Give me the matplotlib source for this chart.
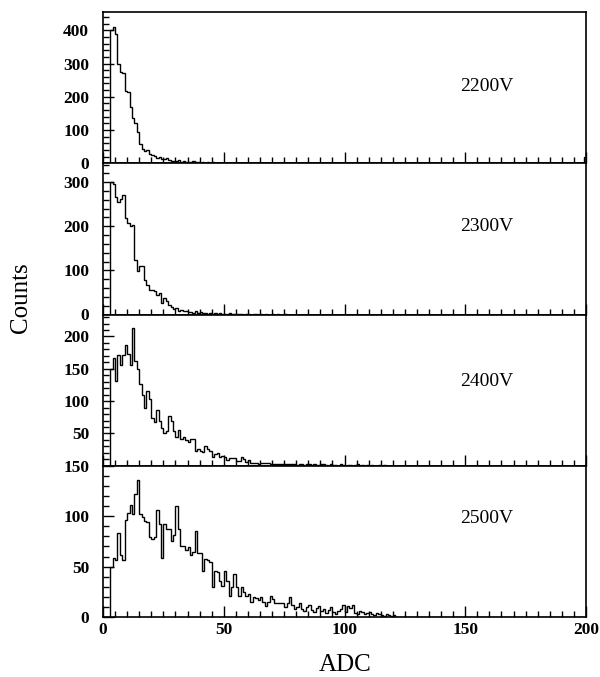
import numpy as np
import matplotlib
matplotlib.use("Agg")
import matplotlib.pyplot as plt
from matplotlib.ticker import MultipleLocator

plt.rcParams['font.family'] = ['Liberation Serif', 'DejaVu Serif']

labels = ["2200V", "2300V", "2400V", "2500V"]
first_bin = 3  # first filled ADC channel

# counts per ADC channel, starting at channel 3
counts_2200 = [400, 410, 390, 300, 274, 270, 218, 215, 168, 137, 120, 95, 57, 42, 36, 40,
               27, 24, 23, 16, 20, 12, 12, 16, 9, 8, 6, 6, 10, 5, 7, 4, 5, 3, 6, 3, 4, 2,
               4, 2, 3, 1, 3, 2, 1, 2, 1, 2, 0, 1, 2, 1, 0, 1, 1, 0, 2, 1, 0, 1, 0, 1, 1,
               0, 0, 1, 0, 1, 0, 0, 1, 0, 0, 1, 0, 0, 0, 1, 0, 0, 1, 0, 0, 0, 1]
counts_2300 = [301, 295, 266, 255, 262, 270, 219, 208, 200, 202, 124, 98, 109, 109, 79, 67,
               56, 56, 53, 45, 48, 26, 37, 30, 22, 17, 13, 15, 8, 10, 7, 9, 5, 6, 4, 7, 3,
               5, 3, 4, 2, 3, 2, 3, 1, 4, 2, 1, 2, 3, 1, 2, 1, 1, 2, 0, 1, 1, 0, 1, 2, 0,
               1, 0, 1, 0, 0, 1, 0, 1, 0, 0, 1]
counts_2400 = [150, 167, 131, 172, 156, 171, 187, 173, 156, 213, 162, 149, 126, 109, 90, 115,
               103, 74, 67, 87, 70, 59, 51, 54, 77, 70, 54, 44, 56, 41, 44, 40, 36, 42, 41,
               23, 26, 23, 21, 31, 26, 23, 13, 18, 19, 13, 15, 13, 9, 12, 12, 12, 8, 8, 13,
               10, 6, 9, 5, 5, 5, 3, 5, 5, 5, 5, 2, 3, 2, 3, 3, 2, 2, 3, 2, 3, 2, 1, 3, 2,
               1, 2, 3, 1, 2, 1, 1, 2, 3, 1, 0, 2, 1, 1, 0, 2, 1, 0, 1, 1, 0, 1, 2, 0, 1,
               0, 1, 0, 1, 0, 0, 1, 0, 1]
counts_2500 = [50, 59, 57, 83, 61, 57, 96, 103, 111, 102, 122, 136, 102, 99, 95, 94, 79, 77,
               79, 106, 92, 59, 92, 87, 87, 75, 81, 110, 87, 70, 70, 66, 69, 61, 64, 85, 63,
               63, 46, 58, 57, 55, 30, 46, 45, 36, 31, 46, 36, 21, 30, 43, 30, 21, 30, 25,
               21, 23, 15, 20, 19, 17, 20, 15, 11, 15, 21, 18, 14, 14, 14, 14, 10, 14, 20,
               12, 8, 10, 14, 8, 6, 10, 12, 7, 5, 9, 11, 6, 8, 4, 7, 10, 5, 3, 6, 8, 12, 5,
               11, 9, 12, 4, 3, 6, 5, 3, 4, 5, 3, 2, 4, 3, 2, 1, 3, 2, 1, 2]
overflow_2200 = 20  # last channel (199) of the 2200V run

series = [counts_2200, counts_2300, counts_2400, counts_2500]
y_max = [455, 343, 234, 150]
y_major = [100, 100, 50, 50]
y_minor = [20, 20, 10, 10]
label_y = [0.51, 0.58, 0.56, 0.65]

n_chan = 200
edges = np.arange(n_chan + 1)

fig = plt.figure(figsize=(6, 6.77), dpi=100)
left, width = 103 / 600, 483 / 600
h = 151.25 / 677
bottom0 = 1 - 617 / 677

axes = []
for i, vals in enumerate(series):
    hist = np.zeros(n_chan)
    hist[first_bin:first_bin + len(vals)] = vals
    if i == 0:
        hist[-1] = overflow_2200
    ax = fig.add_axes([left, bottom0 + (3 - i) * h, width, h])
    ax.stairs(hist, edges, color='black', lw=1.0)
    ax.set_xlim(0, 200)
    ax.set_ylim(0, y_max[i])
    ax.xaxis.set_major_locator(MultipleLocator(50))
    ax.xaxis.set_minor_locator(MultipleLocator(5))
    ax.yaxis.set_major_locator(MultipleLocator(y_major[i]))
    ax.yaxis.set_minor_locator(MultipleLocator(y_minor[i]))
    ax.tick_params(which='both', direction='in', top=False, right=False, width=1.0)
    ax.tick_params(which='major', length=8)
    ax.tick_params(which='minor', length=4)
    for s in ax.spines.values():
        s.set_linewidth(1.2)
    for t in ax.get_yticklabels():
        t.set_fontweight('bold')
        t.set_fontsize(12.5)
    ax.tick_params(axis='y', pad=10)
    if i < 3:
        ax.set_xticklabels([])
    else:
        for t in ax.get_xticklabels():
            t.set_fontweight('bold')
            t.set_fontsize(12.5)
    if i == 2:
        ticks = ax.get_yticks()
        ax.set_yticks(ticks[(ticks > 0) & (ticks <= y_max[i])])
    ax.text(0.795, label_y[i], labels[i], transform=ax.transAxes,
            ha='center', va='center', fontsize=14)
    axes.append(ax)

fig.text(0.035, 0.56, "Counts", rotation=90, ha='center', va='center', fontsize=18)
fig.text(0.575, 0.018, "ADC", ha='center', va='center', fontsize=18)

fig.savefig("out.png", dpi=100)
